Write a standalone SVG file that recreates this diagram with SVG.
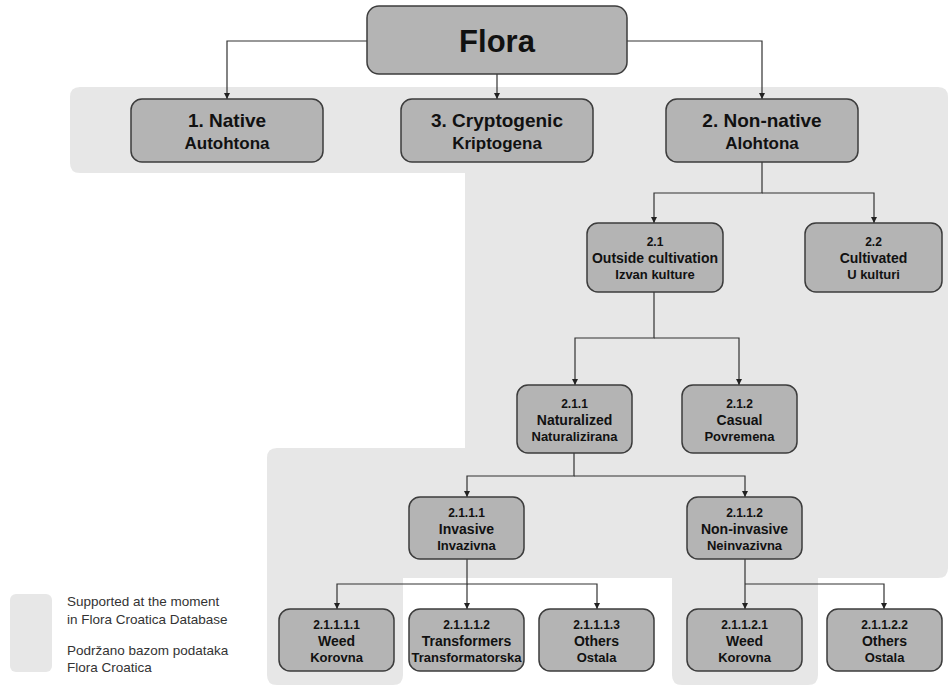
<svg xmlns="http://www.w3.org/2000/svg" width="950" height="686" viewBox="0 0 950 686">
<defs>
<marker id="arr" viewBox="0 0 10 10" refX="10" refY="5" markerWidth="6.5" markerHeight="6" markerUnits="userSpaceOnUse" orient="auto">
<path d="M0,0 L10,5 L0,10 z" fill="#222"/>
</marker>
<style>
.bg{fill:#e7e7e7;}
.box{fill:#b4b4b4;stroke:#3c3c3c;stroke-width:1.5;}
.t{font-family:"Liberation Sans",Arial,sans-serif;font-weight:bold;fill:#111;text-anchor:middle;}
.s1{font-size:12px;}
.s2{font-size:14px;}
.s3{font-size:13px;}
.l1{font-size:19px;}
.l2{font-size:17px;}
.lg{font-family:"Liberation Sans",Arial,sans-serif;font-size:13.5px;fill:#333;}
.c{fill:none;stroke:#333;stroke-width:1.2;marker-end:url(#arr);}
</style>
</defs>
<rect width="950" height="686" fill="#ffffff"/>
<g id="support-area">
<path class="bg" d="M80,87 H938 Q948,87 948,97 V568 Q948,578 938,578 H818 V675 Q818,685 808,685 H682 Q672,685 672,675 V578 H403 V675 Q403,685 393,685 H277 Q267,685 267,675 V458 Q267,448 277,448 H465 V173 H80 Q70,173 70,163 V97 Q70,87 80,87 Z"/>
</g>
<g id="connectors">
<path class="c" d="M367,41 H227 V99"/>
<path class="c" d="M497,74 V99"/>
<path class="c" d="M627,41 H762 V99"/>
<path class="c" d="M762,162 V193 H654 V223"/>
<path class="c" d="M762,193 H874 V223"/>
<path class="c" d="M654,292 V338 H575 V385"/>
<path class="c" d="M654,338 H739 V385"/>
<path class="c" d="M574,453 V476 H467 V497"/>
<path class="c" d="M574,476 H745 V497"/>
<path class="c" d="M467,559 V584 H337 V609"/>
<path class="c" d="M467,584 V609"/>
<path class="c" d="M467,584 H597 V609"/>
<path class="c" d="M745,559 V609"/>
<path class="c" d="M745,584 H884 V609"/>
</g>
<g id="flora">
<rect class="box" x="367" y="6" width="260" height="68" rx="12"/>
<text class="t" x="497" y="52" font-size="31">Flora</text>
</g>
<g id="native">
<rect class="box" x="131" y="99" width="192" height="63" rx="11"/>
<text class="t l1" x="227" y="127">1. Native</text>
<text class="t l2" x="227" y="149">Autohtona</text>
</g>
<g id="cryptogenic">
<rect class="box" x="401" y="99" width="192" height="63" rx="11"/>
<text class="t l1" x="497" y="127">3. Cryptogenic</text>
<text class="t l2" x="497" y="149">Kriptogena</text>
</g>
<g id="nonnative">
<rect class="box" x="666" y="99" width="192" height="63" rx="11"/>
<text class="t l1" x="762" y="127">2. Non-native</text>
<text class="t l2" x="762" y="149">Alohtona</text>
</g>
<g id="n2-1">
<rect class="box" x="587" y="223" width="136" height="69" rx="11"/>
<text class="t s1" x="655" y="246">2.1</text>
<text class="t s2" x="655" y="263">Outside cultivation</text>
<text class="t s3" x="655" y="279">Izvan kulture</text>
</g>
<g id="n2-2">
<rect class="box" x="805" y="223" width="137" height="69" rx="11"/>
<text class="t s1" x="873.5" y="246">2.2</text>
<text class="t s2" x="873.5" y="263">Cultivated</text>
<text class="t s3" x="873.5" y="279">U kulturi</text>
</g>
<g id="n2-1-1">
<rect class="box" x="517" y="385" width="115" height="68" rx="11"/>
<text class="t s1" x="574.5" y="408">2.1.1</text>
<text class="t s2" x="574.5" y="425">Naturalized</text>
<text class="t s3" x="574.5" y="441">Naturalizirana</text>
</g>
<g id="n2-1-2">
<rect class="box" x="682" y="385" width="115" height="68" rx="11"/>
<text class="t s1" x="739.5" y="408">2.1.2</text>
<text class="t s2" x="739.5" y="425">Casual</text>
<text class="t s3" x="739.5" y="441">Povremena</text>
</g>
<g id="n2-1-1-1">
<rect class="box" x="409" y="497" width="115" height="62" rx="11"/>
<text class="t s1" x="466.5" y="517">2.1.1.1</text>
<text class="t s2" x="466.5" y="534">Invasive</text>
<text class="t s3" x="466.5" y="550">Invazivna</text>
</g>
<g id="n2-1-1-2">
<rect class="box" x="687" y="497" width="115" height="62" rx="11"/>
<text class="t s1" x="744.5" y="517">2.1.1.2</text>
<text class="t s2" x="744.5" y="534">Non-invasive</text>
<text class="t s3" x="744.5" y="550">Neinvazivna</text>
</g>
<g id="n2-1-1-1-1">
<rect class="box" x="279" y="609" width="115" height="62" rx="11"/>
<text class="t s1" x="336.5" y="629">2.1.1.1.1</text>
<text class="t s2" x="336.5" y="646">Weed</text>
<text class="t s3" x="336.5" y="662">Korovna</text>
</g>
<g id="n2-1-1-1-2">
<rect class="box" x="409" y="609" width="115" height="62" rx="11"/>
<text class="t s1" x="466.5" y="629">2.1.1.1.2</text>
<text class="t s2" x="466.5" y="646">Transformers</text>
<text class="t s3" x="466.5" y="662">Transformatorska</text>
</g>
<g id="n2-1-1-1-3">
<rect class="box" x="539" y="609" width="115" height="62" rx="11"/>
<text class="t s1" x="596.5" y="629">2.1.1.1.3</text>
<text class="t s2" x="596.5" y="646">Others</text>
<text class="t s3" x="596.5" y="662">Ostala</text>
</g>
<g id="n2-1-1-2-1">
<rect class="box" x="687" y="609" width="115" height="62" rx="11"/>
<text class="t s1" x="744.5" y="629">2.1.1.2.1</text>
<text class="t s2" x="744.5" y="646">Weed</text>
<text class="t s3" x="744.5" y="662">Korovna</text>
</g>
<g id="n2-1-1-2-2">
<rect class="box" x="827" y="609" width="115" height="62" rx="11"/>
<text class="t s1" x="884.5" y="629">2.1.1.2.2</text>
<text class="t s2" x="884.5" y="646">Others</text>
<text class="t s3" x="884.5" y="662">Ostala</text>
</g>
<g id="legend">
<rect class="bg" x="10" y="594" width="42" height="78" rx="6"/>
<text class="lg" x="67" y="606">Supported at the moment</text>
<text class="lg" x="67" y="624">in Flora Croatica Database</text>
<text class="lg" x="67" y="655">Podržano bazom podataka</text>
<text class="lg" x="67" y="672">Flora Croatica</text>
</g>
</svg>
